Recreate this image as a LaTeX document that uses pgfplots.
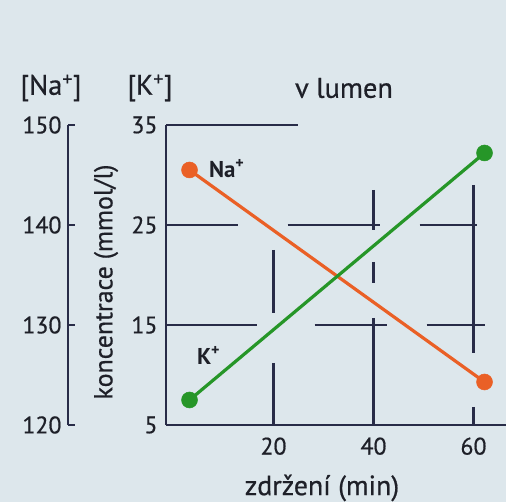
\documentclass[border=0pt]{standalone}
\usepackage{fontspec}
\setmainfont{PT Sans}[UprightFeatures={FakeBold=0.6}]
\usepackage{pgfplots}
\pgfplotsset{compat=1.18}
\definecolor{bg}{RGB}{221,231,236}
\definecolor{axc}{RGB}{40,44,72}
\definecolor{txt}{RGB}{30,32,40}
\definecolor{naorange}{RGB}{234,96,38}
\definecolor{kgreen}{RGB}{38,150,40}
\pgfplotstableread{
x y
3.2 145.5
62.2 124.3
}\natable
\pgfplotstableread{
x y
3.2 7.5
62.2 32.2
}\ktable
\newcommand{\fs}{\fontsize{24}{28}\selectfont}
\newcommand{\fh}{\fontsize{28.5}{32}\selectfont}
\begin{document}
\begin{tikzpicture}[x=1bp,y=1bp]
\fill[bg] (0,0) rectangle (506,502);
\useasboundingbox (0,0) rectangle (506,502);
\clip (0,0) rectangle (506,502);
% main frame axis (K scale)
\begin{axis}[
  at={(166bp,77bp)}, anchor=south west, scale only axis,
  width=340bp, height=300bp,
  xmin=-1.5, xmax=66.5, ymin=5, ymax=35,
  axis lines=left, axis line style={-, line width=2.4bp, draw=axc},
  xtick={20,40,60}, ytick={5,15,25,35}, major tick length=0pt,
  tick label style={font=\fs, text=txt},
  xticklabel style={yshift=-9bp}, yticklabel style={xshift=-5bp},
  /pgf/number format/assume math mode=true,
  clip=false,
]
\draw[axc, line width=2.4bp] (axis cs:-1.5,35) -- (axis cs:24.8,35);
\begin{scope}[axc, line width=2.2bp]
\draw (axis cs:-1.5,25) -- (axis cs:12.8,25);
\draw (axis cs:22.8,25) -- (axis cs:41.2,25);
\draw (axis cs:49.2,25) -- (axis cs:60.6,25);
\draw (axis cs:-1.5,15) -- (axis cs:16.6,15);
\draw (axis cs:28.2,15) -- (axis cs:42.6,15);
\draw (axis cs:50.6,15) -- (axis cs:62.2,15);
\draw (axis cs:20,22.5) -- (axis cs:20,16.2);
\draw (axis cs:20,11.2) -- (axis cs:20,5);
\draw (axis cs:40,28.5) -- (axis cs:40,24.5);
\draw (axis cs:40,21.3) -- (axis cs:40,19.2);
\draw (axis cs:40,15.7) -- (axis cs:40,5);
\draw (axis cs:60,29) -- (axis cs:60,12.2);
\draw (axis cs:60,6.8) -- (axis cs:60,5);
\end{scope}
\node[font=\fontsize{23}{26}\selectfont\bfseries, text=txt, anchor=west] at (axis cs:6.4,30.6) {Na\textsuperscript{+}};
\node[font=\fontsize{23}{26}\selectfont\bfseries, text=txt, anchor=west] at (axis cs:4.0,12.0) {K\textsuperscript{+}};
\end{axis}
% Na series (Na scale, hidden axis)
\begin{axis}[
  at={(166bp,77bp)}, anchor=south west, scale only axis,
  width=340bp, height=300bp,
  xmin=-1.5, xmax=66.5, ymin=120, ymax=150,
  hide axis, clip=false,
]
\addplot[naorange, line width=3.2bp, mark=*, mark size=8bp,
  mark options={fill=naorange, draw=naorange, line width=0.5bp}] table[x=x,y=y] {\natable};
\end{axis}
% K series (K scale, hidden axis)
\begin{axis}[
  at={(166bp,77bp)}, anchor=south west, scale only axis,
  width=340bp, height=300bp,
  xmin=-1.5, xmax=66.5, ymin=5, ymax=35,
  hide axis, clip=false,
]
\addplot[kgreen, line width=3.2bp, mark=*, mark size=8bp,
  mark options={fill=kgreen, draw=kgreen, line width=0.5bp}] table[x=x,y=y] {\ktable};
\end{axis}
% Na scale axis
\begin{axis}[
  at={(68bp,77bp)}, anchor=south west, scale only axis,
  width=20bp, height=300bp,
  xmin=0, xmax=1, ymin=120, ymax=150,
  hide x axis, axis y line*=left,
  axis line style={-, line width=2.4bp, draw=axc},
  ytick={120,130,140,150}, tick align=inside, major tick length=7bp,
  major tick style={line width=2.2bp, draw=axc},
  tick label style={font=\fs, text=txt},
  yticklabel style={xshift=-3bp},
  /pgf/number format/assume math mode=true,
]
\addplot[draw=none] coordinates {(0,120) (1,150)};
\end{axis}
\node[font=\fh, text=txt] at (51,414) {[Na\textsuperscript{+}]};
\node[font=\fh, text=txt] at (150,414) {[K\textsuperscript{+}]};
\node[font=\fh, text=txt] at (344,414) {v lumen};
\node[font=\fontsize{26}{30}\selectfont, text=txt, rotate=90] at (106,220) {koncentrace (mmol/l)};
\node[font=\fontsize{28}{32}\selectfont, text=txt] at (322,14) {zdržení (min)};
\end{tikzpicture}
\end{document}
